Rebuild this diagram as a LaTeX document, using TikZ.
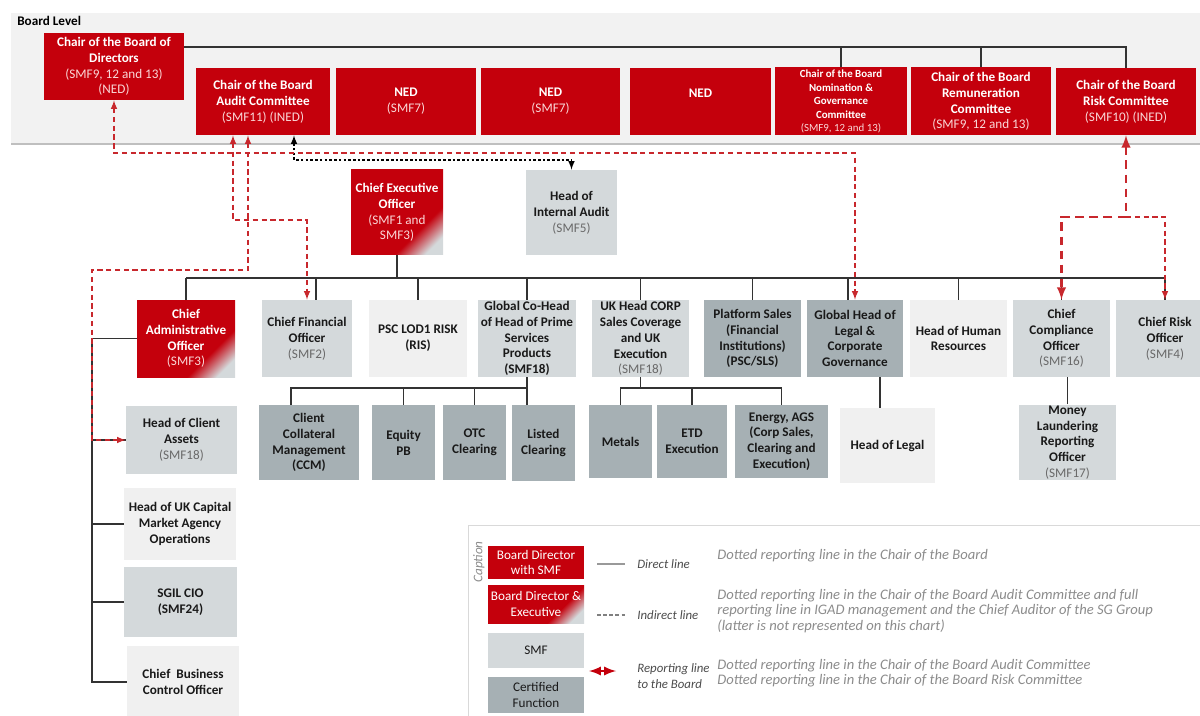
\documentclass[tikz,border=0pt]{standalone}
\usepackage{fontspec}
\setmainfont{Carlito}
\usetikzlibrary{arrows}
\definecolor{sgred}{RGB}{196,0,12}
\definecolor{smfgray}{RGB}{212,217,219}
\definecolor{certgray}{RGB}{166,176,180}
\definecolor{lightbox}{RGB}{240,240,240}
\definecolor{panel}{RGB}{242,242,242}
\definecolor{repred}{RGB}{200,40,45}
\pgfdeclareverticalshading{bdexec}{100bp}{color(0bp)=(smfgray); color(22bp)=(smfgray); color(34bp)=(sgred); color(100bp)=(sgred)}
\newcommand{\smfg}[1]{{\mdseries\color[RGB]{105,105,105}#1}}
\newcommand{\smfw}[1]{{\mdseries\color[RGB]{250,215,215}#1}}
\tikzset{
  box/.style={rectangle, inner sep=0.5pt, align=center, font=\fontsize{7.5}{9}\selectfont\bfseries, text=black!90},
  sz/.style 2 args={minimum width=#1*0.02cm, minimum height=#2*0.02cm},
  bd/.style={box, fill=sgred, text=white},
  bdx/.style={box, shade, shading=bdexec, shading angle=45, text=white},
  smf/.style={box, fill=smfgray},
  cert/.style={box, fill=certgray},
  oth/.style={box, fill=lightbox},
  direct/.style={draw=black!80, line width=0.7pt},
  indirect/.style={draw=black, line width=0.7pt, dash pattern=on 1.5pt off 1.2pt, >=latex},
  rep/.style={draw=repred, line width=0.7pt, dash pattern=on 3pt off 2pt, >=latex},
  repbold/.style={draw=repred, line width=1.4pt, dash pattern=on 5pt off 3pt, >=latex},
  legtxt/.style={anchor=west, inner sep=0pt, align=left, font=\fontsize{7.3}{8.8}\selectfont\itshape, text=black!70},
  desc/.style={anchor=west, inner sep=0pt, align=left, font=\fontsize{8.3}{8.8}\selectfont\itshape, text=black!45},
}

\begin{document}
\begin{tikzpicture}[x=0.02cm, y=-0.02cm]
\useasboundingbox (0,0) rectangle (1200,716);

% board level
\fill[panel] (11,13) rectangle (1210,143);
\draw[black!25, line width=1.5pt] (11,144) -- (1210,144);
\node[anchor=west, inner sep=0pt, font=\fontsize{7.5}{9}\selectfont\bfseries] (BL) at (17,21) {Board Level};

\node[bd, sz={140}{67}] (CHAIR) at (114,66.5) {Chair of the Board of\\Directors\\\smfw{(SMF9, 12 and 13)}\\\smfw{(NED)}};
\node[bd, sz={134}{67}] (AUD) at (263,101.5) {Chair of the Board\\Audit Committee\\\smfw{(SMF11) (INED)}};
\node[bd, sz={140}{67}] (NEDa) at (406,101.5) {NED\\\smfw{(SMF7)}};
\node[bd, sz={139}{67}] (NEDb) at (550.5,101.5) {NED\\\smfw{(SMF7)}};
\node[bd, sz={141}{67}] (NEDc) at (700.5,101.5) {NED\\\mbox{}};
\node[bd, sz={132}{68}, font=\fontsize{6.2}{7.7}\selectfont\bfseries] (NOM) at (841,101.5) {Chair of the Board\\Nomination \&\\Governance\\Committee\\\smfw{(SMF9, 12 and 13)}};
\node[bd, sz={140}{68}] (REM) at (981,101.5) {Chair of the Board\\Remuneration\\Committee\\\smfw{(SMF9, 12 and 13)}};
\node[bd, sz={140}{67}] (RISK) at (1126,101.5) {Chair of the Board\\Risk Committee\\\smfw{(SMF10) (INED)}};

\coordinate (T) at (0,47);
\draw[direct] (CHAIR.east |- T) -| (RISK.north);
\draw[direct] (NOM.north) -- (NOM.north |- T);
\draw[direct] (REM.north) -- (REM.north |- T);

% executive
\node[bdx, sz={92}{85}] (CEO) at (397,212.5) {Chief Executive\\Officer\\\smfw{(SMF1 and}\\\smfw{SMF3)}};
\node[smf, sz={91}{85}] (HIA) at (571.5,212.5) {Head of\\Internal Audit\\\smfg{(SMF5)}};

\node[bdx, sz={98}{77}] (CAO) at (186,338.5) {Chief\\Administrative\\Officer\\\smfw{(SMF3)}};
\node[smf, sz={90}{77}] (CFO) at (307,338.5) {Chief Financial\\Officer\\\smfg{(SMF2)}};
\node[oth, sz={98}{77}] (PSC) at (418,338.5) {PSC LOD1 RISK\\(RIS)};
\node[smf, sz={98}{77}] (GCH) at (527,338.5) {Global Co-Head\\of Head of Prime\\Services\\Products\\(SMF18)};
\node[smf, sz={97}{77}] (UKH) at (640.5,338.5) {UK Head CORP\\Sales Coverage\\and UK\\Execution\\\smfg{(SMF18)}};
\node[cert, sz={97}{77}] (PLAT) at (752.5,338.5) {Platform Sales\\(Financial\\Institutions)\\(PSC/SLS)};
\node[cert, sz={96}{77}] (LEGAL) at (855,338.5) {Global Head of\\Legal \&\\Corporate\\Governance};
\node[oth, sz={97}{77}] (HR) at (958.5,338.5) {Head of Human\\Resources};
\node[smf, sz={97}{77}] (CCO) at (1061.5,338.5) {Chief\\Compliance\\Officer\\\smfg{(SMF16)}};
\node[smf, sz={98}{77}] (CRO) at (1165,338.5) {Chief Risk\\Officer\\\smfg{(SMF4)}};

\node[cert, sz={100}{75}] (CCM) at (309,442.5) {Client\\Collateral\\Management\\(CCM)};
\node[cert, sz={63}{75}] (EQPB) at (403.5,442.5) {Equity\\PB};
\node[cert, sz={63}{75}] (OTC) at (474.5,442.5) {OTC\\Clearing};
\node[cert, sz={63}{76}] (LIST) at (543.5,443) {Listed\\Clearing};
\node[cert, sz={63}{73}] (METAL) at (620.5,441.5) {Metals};
\node[cert, sz={70}{73}] (ETD) at (692,441.5) {ETD\\Execution};
\node[cert, sz={93}{73}] (ENERGY) at (781.5,441.5) {Energy, AGS\\(Corp Sales,\\Clearing and\\Execution)};
\node[oth, sz={95}{75}] (HLEGAL) at (887.5,445.5) {Head of Legal};
\node[smf, sz={97}{75}] (MLRO) at (1067.5,442.5) {Money\\Laundering\\Reporting\\Officer\\\smfg{(SMF17)}};

\node[smf, sz={111}{68}] (HCA) at (181.5,440) {Head of Client\\Assets\\\smfg{(SMF18)}};
\node[oth, sz={112}{72}] (HUK) at (180,524) {Head of UK Capital\\Market Agency\\Operations};
\node[smf, sz={113}{70}] (SGIL) at (180.5,602) {SGIL CIO\\(SMF24)};
\node[oth, sz={112}{72}] (CBCO) at (183,682) {Chief\ \ Business\\Control Officer};

% direct lines
\coordinate (B1) at (0,278);
\draw[direct] (CEO.south) -- (CEO.south |- B1);
\draw[direct] (CAO.north |- B1) -- (CRO.north |- B1);
\foreach \n in {CAO,PSC,GCH,UKH,PLAT,HR,CCO,CRO}
  \draw[direct] (\n.north) -- (\n.north |- B1);
\draw[direct] ([xshift=0.18cm]CFO.north) -- ++(0,-22);
\draw[direct] ([xshift=-0.14cm]LEGAL.north) -- ++(0,-22);

\coordinate (L) at (92,0);
\draw[direct] (CAO.west) -| (CBCO.west -| L) -- (CBCO.west);
\foreach \n in {HCA,HUK,SGIL}
  \draw[direct] (\n.west -| L) -- (\n.west);

\coordinate (B2) at (0,388);
\draw[direct] (GCH.south) -- (GCH.south |- B2);
\draw[direct] ([xshift=-0.36cm]CCM.north) |- (GCH.south |- B2) -- (LIST.north -| GCH.south);
\foreach \n in {EQPB,OTC}
  \draw[direct] (\n.north) -- (\n.north |- B2);
\draw[direct] (UKH.south) -- (UKH.south |- B2);
\draw[direct] (METAL.north) |- (ENERGY.north |- B2) -- (ENERGY.north);
\draw[direct] (ETD.north) -- (ETD.north |- B2);
\draw[direct] ([xshift=-0.15cm]HLEGAL.north) -- ++(0,-31);
\draw[direct] (MLRO.north) -- (MLRO.north |- CCO.south);

% indirect line
\coordinate (D) at (0,160);
\draw[indirect, <->] ([xshift=0.62cm]AUD.south) |- (HIA.north |- D) -- (HIA.north);

% reporting lines to the board
\coordinate (R1) at (0,153);
\coordinate (R2) at (0,220);
\coordinate (R3) at (0,270);
\coordinate (R4) at (1126,217);
\draw[rep, <->] (CHAIR.south) |- (LEGAL.north |- R1) -- (LEGAL.north);
\draw[rep, <->] ([xshift=-0.6cm]AUD.south) |- (CFO.north |- R2) -- (CFO.north);
\draw[rep, <->] ([xshift=-0.3cm]AUD.south) |- (L |- R3) |- (HCA.west);
\draw[repbold, <->] (RISK.south) -- (R4) -| (CCO.north);
\draw[rep, ->] (R4) -| (CRO.north);

% caption
\draw[black!15, fill=white] (468,525) rectangle (1210,725);
\node[rotate=90, inner sep=0pt, font=\fontsize{7.5}{9}\selectfont\itshape, text=black!45] (CAP) at (479,562) {Caption};
\node[bd, sz={96}{33}, font=\fontsize{7.5}{9}\selectfont] (LA) at (536,562.5) {Board Director\\with SMF};
\node[bdx, sz={96}{38}, font=\fontsize{7.5}{9}\selectfont] (LB) at (536,604) {Board Director \&\\Executive};
\node[smf, sz={96}{35}, font=\fontsize{7.5}{9}\selectfont] (LC) at (536,650.5) {SMF};
\node[cert, sz={96}{36}, font=\fontsize{7.5}{9}\selectfont] (LD) at (536,695) {Certified\\Function};

\coordinate (da) at (597,564);
\coordinate (db) at (625,564);
\coordinate (ia) at (597,615);
\coordinate (ib) at (625,615);
\coordinate (ra) at (589,671);
\coordinate (rb) at (616,671);
\draw[black!40, line width=0.7pt] (da) -- (db);
\draw[black!50, line width=0.7pt, dash pattern=on 2pt off 1.5pt] (ia) -- (ib);
\draw[sgred, line width=1.3pt, <->, >=latex] (ra) -- (rb);

\node[legtxt] (LT1) at (637,564) {Direct line};
\node[legtxt] (LT2) at (637,615) {Indirect line};
\node[legtxt] (LT3) at (637,676) {Reporting line\\to the Board};

\node[desc] (DA) at (717,556) {Dotted reporting line in the Chair of the Board};
\node[desc] (DB) at (717,611) {Dotted reporting line in the Chair of the Board Audit Committee and full\\reporting line in IGAD management and the Chief Auditor of the SG Group\\(latter is not represented on this chart)};
\node[desc] (DC) at (717,673) {Dotted reporting line in the Chair of the Board Audit Committee\\Dotted reporting line in the Chair of the Board Risk Committee};
\end{tikzpicture}
\end{document}
